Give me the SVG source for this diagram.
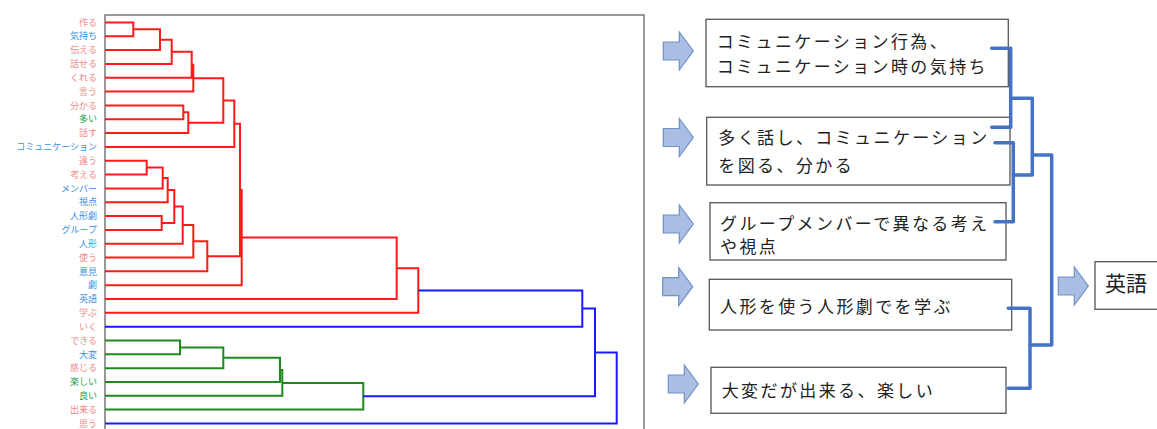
<svg xmlns="http://www.w3.org/2000/svg" width="1157" height="429" viewBox="0 0 1157 429">
<style>
.lbl{font-family:"Noto Sans CJK JP","Noto Sans",sans-serif;font-size:9px;text-anchor:end}
.p{fill:#f08a8a}.b{fill:#3a8ee6}.g{fill:#22a04a}
.den{fill:none;stroke-width:2}
.r{stroke:#ff1a1a}.bl{stroke:#1a1aff}.gr{stroke:#1e8a1e}
.box{fill:#fff;stroke:#555;stroke-width:1.3}
.bt{font-family:"Noto Sans CJK JP","Noto Sans",sans-serif;font-size:17px;letter-spacing:2.4px;fill:#222}
.arr{fill:#a9bee2;stroke:#7090c8;stroke-width:1.2}
.br{fill:none;stroke:#4472c4;stroke-width:3.5;stroke-linejoin:round;stroke-linecap:round}
</style>
<defs>
<path id="arrow" d="M0,-9 H16 V-19 L30,0 L16,19 V9 H0 Z"/>
</defs>
<rect width="1157" height="429" fill="#fff"/>
<g id="frame" fill="none" stroke="#777" stroke-width="1.5">
<path d="M105,429 V15 H644 V429"/>
</g>
<g id="labels">
<text class="lbl p" x="97" y="25.6">作る</text>
<text class="lbl b" x="97" y="39.4">気持ち</text>
<text class="lbl p" x="97" y="53.3">伝える</text>
<text class="lbl p" x="97" y="67.1">話せる</text>
<text class="lbl p" x="97" y="80.9">くれる</text>
<text class="lbl p" x="97" y="94.8">言う</text>
<text class="lbl p" x="97" y="108.6">分かる</text>
<text class="lbl g" x="97" y="122.4">多い</text>
<text class="lbl p" x="97" y="136.2">話す</text>
<text class="lbl b" x="97" y="150.1">コミュニケーション</text>
<text class="lbl p" x="97" y="163.9">違う</text>
<text class="lbl p" x="97" y="177.7">考える</text>
<text class="lbl b" x="97" y="191.6">メンバー</text>
<text class="lbl b" x="97" y="205.4">視点</text>
<text class="lbl b" x="97" y="219.2">人形劇</text>
<text class="lbl b" x="97" y="233.1">グループ</text>
<text class="lbl b" x="97" y="246.9">人形</text>
<text class="lbl p" x="97" y="260.7">使う</text>
<text class="lbl b" x="97" y="274.5">意見</text>
<text class="lbl b" x="97" y="288.4">劇</text>
<text class="lbl b" x="97" y="302.2">英語</text>
<text class="lbl p" x="97" y="316">学ぶ</text>
<text class="lbl p" x="97" y="329.9">いく</text>
<text class="lbl p" x="97" y="343.7">できる</text>
<text class="lbl b" x="97" y="357.5">大変</text>
<text class="lbl p" x="97" y="371.4">感じる</text>
<text class="lbl g" x="97" y="385.2">楽しい</text>
<text class="lbl g" x="97" y="399">良い</text>
<text class="lbl p" x="97" y="412.8">出来る</text>
<text class="lbl p" x="97" y="426.7">思う</text>
</g>
<g id="dendrogram">
<path class="den r" d="M105,22.4 H133.3 V36.2 H105
M133.3,29.3 H160 V50.1 H105
M160,39.7 H171.7 V63.9 H105
M171.7,51.8 H191.7 V77.7 H105
M191.7,64.8 H193.3 V91.6 H105
M105,105.4 H183.3 V119.2 H105
M183.3,112.3 H188.3 V133 H105
M193.3,78.2 H223.3 V122.7 H188.3
M223.3,100.4 H234.3 V146.9 H105
M105,160.7 H146.7 V174.5 H105
M146.7,167.6 H162.7 V188.4 H105
M162.7,178 H167.7 V202.2 H105
M105,216 H161.7 V229.9 H105
M167.7,190.1 H174.3 V223 H161.7
M174.3,206.5 H182.7 V243.7 H105
M182.7,225.1 H193.3 V257.5 H105
M193.3,241.3 H207.3 V271.3 H105
M234.3,123.7 H240 V256.3 H207.3
M240,190 H241.7 V285.2 H105
M241.7,237.6 H396.7 V299 H105
M396.7,268.3 H418.3 V312.8 H105"/>
<path class="den gr" d="M105,340.5 H180 V354.3 H105
M180,347.4 H223.3 V368.2 H105
M223.3,357.8 H280 V382 H105
M280,369.9 H282.3 V395.8 H105
M282.3,382.9 H363.3 V409.6 H105"/>
<path class="den bl" d="M418.3,290.6 H582.3 V326.7 H105
M582.3,308.6 H595 V396.2 H363.3
M595,352.4 H616.7 V423.5 H105"/>
</g>
<g id="arrows">
<use href="#arrow" class="arr" transform="translate(663.3,51)"/>
<use href="#arrow" class="arr" transform="translate(663.3,137.5)"/>
<use href="#arrow" class="arr" transform="translate(663.3,224)"/>
<use href="#arrow" class="arr" transform="translate(662.7,286.7)"/>
<use href="#arrow" class="arr" transform="translate(668.3,384)"/>
<use href="#arrow" class="arr" transform="translate(1058.3,286)"/>
</g>
<g id="box1">
<rect class="box" x="706" y="19.3" width="302.3" height="67.4"/>
<text class="bt" x="716.7" y="48">コミュニケーション行為、</text>
<text class="bt" x="716.7" y="73">コミュニケーション時の気持ち</text>
</g>
<g id="box2">
<rect class="box" x="706.7" y="117.3" width="303.3" height="67.7"/>
<text class="bt" x="718.3" y="144">多く話し、コミュニケーション</text>
<text class="bt" x="718.3" y="171.5">を図る、分かる</text>
</g>
<g id="box3">
<rect class="box" x="710" y="202.7" width="296" height="57.3"/>
<text class="bt" x="720" y="229.8">グループメンバーで異なる考え</text>
<text class="bt" x="720" y="253">や視点</text>
</g>
<g id="box4">
<rect class="box" x="709.3" y="279.3" width="302.4" height="50.7"/>
<text class="bt" x="720" y="313">人形を使う人形劇でを学ぶ</text>
</g>
<g id="box5">
<rect class="box" x="711" y="367.3" width="295" height="46"/>
<text class="bt" x="721.7" y="396.5">大変だが出来る、楽しい</text>
</g>
<g id="box6">
<rect class="box" x="1095" y="261.7" width="70" height="47.6"/>
<text x="1105" y="291" font-family="Noto Sans CJK JP,sans-serif" font-size="21" fill="#222">英語</text>
</g>
<g id="brackets">
<path class="br" d="M991.7,48.3 H1010.7 V127.3 H991.7"/>
<path class="br" d="M995,142.7 H1013.3 V221.7 H995"/>
<path class="br" d="M1010.7,98.3 H1032.3 V175 H1013.3"/>
<path class="br" d="M1008.3,308.3 H1030 V388.3 H1008.3"/>
<path class="br" d="M1032.3,155 H1051.7 V345 H1030"/>
</g>
</svg>
